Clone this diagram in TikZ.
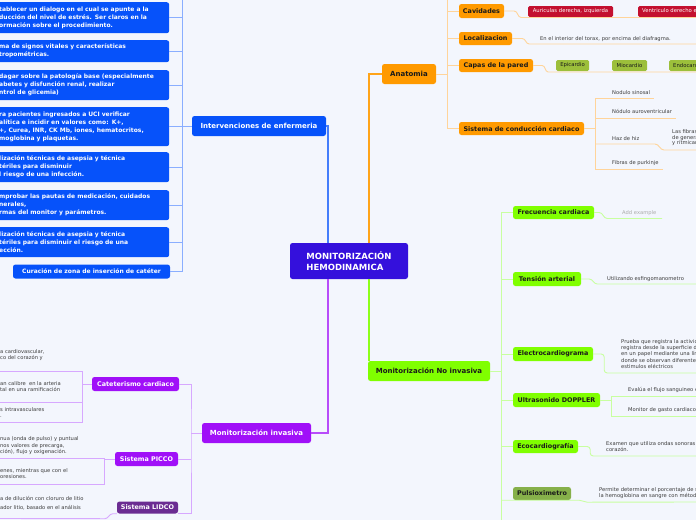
\documentclass[tikz,border=0pt]{standalone}
\usepackage{fontspec}
\setmainfont{DejaVu Sans}

\definecolor{bg}{HTML}{F3F6FD}
\definecolor{central}{HTML}{3410DC}
\definecolor{blueb}{HTML}{0652FA}
\definecolor{bluel}{HTML}{8AAEFF}
\definecolor{orangeb}{HTML}{FF9A00}
\definecolor{orangel}{HTML}{FFD49A}
\definecolor{greenb}{HTML}{80FF00}
\definecolor{greenl}{HTML}{C8FFA0}
\definecolor{purpleb}{HTML}{A010F8}
\definecolor{purplel}{HTML}{D7A8FF}
\definecolor{lidcoc}{HTML}{6B2C92}
\definecolor{redb}{HTML}{C3102F}
\definecolor{oliveb}{HTML}{9CBF3B}
\definecolor{pulsc}{HTML}{86B04A}
\definecolor{notec}{HTML}{3C3C3C}
\definecolor{addc}{HTML}{ABABAB}
\definecolor{textdark}{HTML}{1A1A1A}

\begin{document}
\begin{tikzpicture}[
    x=1pt, y=-1pt,
    box/.style={rounded corners=2.5pt, inner sep=0pt},
    mainbox/.style={box, fill=central, text=white, align=left,
      minimum width=118pt, minimum height=36pt,
      font=\fontsize{8.5}{10.7}\selectfont\bfseries},
    topic/.style={box, minimum height=20pt, font=\fontsize{7}{8}\selectfont\bfseries},
    subtopic/.style={box, minimum height=13pt, text=textdark,
      font=\fontsize{6.4}{7.5}\selectfont\bfseries},
    tag/.style={box, rounded corners=1.5pt, minimum height=11pt,
      font=\fontsize{5.3}{6}\selectfont},
    bluebox/.style={box, fill=blueb, text=white, anchor=north west, align=left,
      inner xsep=2pt, text width=168pt, font=\fontsize{6}{8}\selectfont\bfseries},
    note/.style={inner xsep=4pt, inner ysep=0pt, anchor=base west, align=left,
      text=notec, font=\fontsize{5.2}{6.3}\selectfont},
    bmain/.style={draw=blueb!75!white, line width=1.3pt},
    bthin/.style={draw=bluel, line width=0.9pt},
    omain/.style={draw=orangeb!90!white, line width=1.3pt},
    othin/.style={draw=orangel, line width=0.9pt},
    gmain/.style={draw=greenb!90!white, line width=1.3pt},
    gthin/.style={draw=greenl, line width=0.9pt},
    pmain/.style={draw=purpleb!75!white, line width=1.3pt},
    pthin/.style={draw=purplel, line width=0.9pt}
  ]
  \useasboundingbox (0,0) rectangle (696,520);
  \fill[bg] (0,0) rectangle (696,520);
  \clip (0,0) rectangle (696,520);

  % centre
  \node (mon) [mainbox] at (349,261) {MONITORIZACIÓN\\HEMODINAMICA};
  \coordinate (jb) at (328,243);
  \coordinate (jo) at (369,243);
  \coordinate (jg) at (369,279);
  \coordinate (jp) at (328,279);

  % intervenciones de enfermeria
  \node (inter) [topic, fill=blueb, text=white, minimum width=134pt] at (259,126) {Intervenciones de enfermeria};
  \node (est) [bluebox, minimum height=31pt] at (-3,2) {tablecer un dialogo en el cual se apunte a la\\ducción del nivel de estrés. Ser claros en la\\ormación sobre el procedimiento.};
  \node (toma) [bluebox, minimum height=22pt] at (-3,40) {ma de signos vitales y características\\tropométricas.};
  \node (ind) [bluebox, minimum height=30pt] at (-3,70) {dagar sobre la patología base (especialmente\\abetes y disfunción renal, realizar\\ntrol de glicemia)};
  \node (uci) [bluebox, minimum height=39pt] at (-3,107) {ra pacientes ingresados a UCI verificar\\alítica e incidir en valores como: K+,\\+, Curea, INR, CK Mb, iones, hematocritos,\\moglobina y plaquetas.};
  \node (asepa) [bluebox, minimum height=30pt] at (-3,152) {lización técnicas de asepsia y técnica\\tériles para disminuir\\l riesgo de una infección.};
  \node (comp) [bluebox, minimum height=30pt] at (-3,190) {mprobar las pautas de medicación, cuidados\\nerales,\\rmas del monitor y parámetros.};
  \node (asepb) [bluebox, minimum height=30pt] at (-3,227) {lización técnicas de asepsia y técnica\\tériles para disminuir el riesgo de una\\ección.};
  \node (cur) [box, fill=blueb, text=white, minimum width=157pt, minimum height=14pt, font=\fontsize{6}{8}\selectfont\bfseries] at (91.5,271.5) {Curación de zona de inserción de catéter};
  \coordinate (btop) at (182,0);
  \draw[bmain] (inter.east) -| (jb);
  \draw[bthin] (btop) |- (cur.east);
  \draw[bthin] (inter.west) -- (inter.west -| btop);
  \draw[bthin] (est.east) -- (est.east -| btop);
  \draw[bthin] (toma.east) -- (toma.east -| btop);
  \draw[bthin] (ind.east) -- (ind.east -| btop);
  \draw[bthin] (uci.east) -- (uci.east -| btop);
  \draw[bthin] (asepa.east) -- (asepa.east -| btop);
  \draw[bthin] (comp.east) -- (comp.east -| btop);
  \draw[bthin] (asepb.east) -- (asepb.east -| btop);

  % anatomia
  \node (anat) [topic, fill=orangeb, text=textdark, minimum width=54pt] at (409,74) {Anatomia};
  \node (cav) [subtopic, fill=orangeb, minimum width=45pt, minimum height=14pt] at (481.5,11) {Cavidades};
  \node (loc) [subtopic, fill=orangeb, minimum width=53pt] at (485.5,38.5) {Localizacion};
  \node (capas) [subtopic, fill=orangeb, minimum width=74pt] at (496,65.5) {Capas de la pared};
  \node (sis) [subtopic, fill=orangeb, minimum width=125pt] at (521.5,128.5) {Sistema de conducción cardiaco};
  \coordinate (otop) at (447,0);
  \draw[omain] (anat.west) -| (jo);
  \draw[othin] (anat.east) -- (anat.east -| otop);
  \draw[othin] (otop) |- (sis.west);
  \draw[othin] (cav.west) -- (cav.west -| otop);
  \draw[othin] (loc.west) -- (loc.west -| otop);
  \draw[othin] (capas.west) -- (capas.west -| otop);

  \node (aur) [tag, fill=redb, text=white, minimum width=85pt] at (570.5,11.5) {Auriculas derecha, izquierda};
  \node (ven) [tag, fill=redb, text=white, anchor=west, inner xsep=4pt] at (638,11.5) {Ventriculo derecho e izquierdo};
  \coordinate (cavr) at (696,17.5);
  \draw[othin] (cav.east) -- ++(10,0) to[out=0,in=180] ++(7,6.5) -- (cavr);

  \node (locx) [note] at (536,40.4) {En el interior del torax, por encima del diafragma.};
  \coordinate (locr) at (696,44);
  \draw[othin] (loc.east) -- ++(10,0) to[out=0,in=180] ++(7,5.5) -- (locr);

  \node (epi) [tag, fill=oliveb, text=textdark, minimum width=33pt] at (572.5,65.5) {Epicardio};
  \node (mio) [tag, fill=oliveb, text=textdark, minimum width=35pt] at (629.5,65.5) {Miocardio};
  \node (endo) [tag, fill=oliveb, text=textdark, anchor=west, inner xsep=4pt] at (669,65.5) {Endocardio};
  \coordinate (capr) at (696,72);
  \draw[othin] (capas.east) -- ++(9,0) to[out=0,in=180] ++(6,6.5) -- (capr);

  \node (s1) [note] at (608,94.7) {Nodulo sinosal};
  \node (s2) [note] at (608,113.7) {Nódulo auroventricular};
  \node (s3) [note] at (608,140.4) {Haz de hiz};
  \node (s4) [note] at (608,164.7) {Fibras de purkinje};
  \node (fib) [note, font=\fontsize{5.2}{5.7}\selectfont] at (668,144.8) {Las fibras\\de generar\\y rítmicamente};
  \coordinate (s1u) at (595,98);
  \coordinate (s2u) at (595,118);
  \coordinate (s3u) at (595,144);
  \coordinate (s4u) at (595,169);
  \coordinate (fibr) at (696,150);
  \draw[othin] (sis.east) -- (sis.east -| s1u);
  \draw[othin] (s1u) -- (s4u);
  \draw[othin] (s1u) -- (s1u -| s1.east);
  \draw[othin] (s2u) -- (s2u -| s2.east);
  \draw[othin] (s3u) -- ++(60,0) to[out=0,in=180] ++(9,6) -- (fibr);
  \draw[othin] (s4u) -- (s4u -| s4.east);

  % monitorizacion no invasiva
  \node (noinv) [topic, fill=greenb, text=textdark, minimum width=122pt] at (429,371) {Monitorización No invasiva};
  \draw[gmain] (jg) -- (jg |- noinv.north);
  \node (fc) [subtopic, fill=greenb, minimum width=81pt] at (553.5,212.5) {Frecuencia cardiaca};
  \node (ta) [subtopic, fill=greenb, minimum width=68pt, minimum height=14pt] at (547,279) {Tensión arterial};
  \node (ecg) [subtopic, fill=greenb, minimum width=80pt, minimum height=14pt] at (553,354) {Electrocardiograma};
  \node (dop) [subtopic, fill=greenb, minimum width=87pt, minimum height=14pt] at (556.5,400) {Ultrasonido DOPPLER};
  \node (eco) [subtopic, fill=greenb, minimum width=65pt] at (545.5,446.5) {Ecocardiografía};
  \node (pul) [subtopic, fill=pulsc, minimum width=58pt] at (542,493.5) {Pulsioximetro};
  \coordinate (gbot) at (501,520);
  \coordinate (pulr) at (696,502);
  \draw[gthin] (noinv.east) -- (noinv.east -| gbot);
  \draw[gthin] (fc.west -| gbot) -- (gbot);
  \draw[gthin] (fc.west) -- (fc.west -| gbot);
  \draw[gthin] (ta.west) -- (ta.west -| gbot);
  \draw[gthin] (ecg.west) -- (ecg.west -| gbot);
  \draw[gthin] (dop.west) -- (dop.west -| gbot);
  \draw[gthin] (eco.west) -- (eco.west -| gbot);
  \draw[gthin] (pul.south west -| gbot) -- (pul.south east) -- ++(8,0) to[out=0,in=180] ++(8,2) -- (pulr);

  \node (fcx) [note, text=addc] at (618,214.4) {Add example};
  \coordinate (fcu) at (662,218.5);
  \draw[gthin] (fc.east) -- ++(5,0) to[out=0,in=180] ++(8,6) -- (fcu);

  \node (tax) [note] at (603,280.4) {Utilizando esfingomanometro};
  \coordinate (tar) at (696,284);
  \draw[gthin] (ta.east) -- ++(8,0) to[out=0,in=180] ++(8,5) -- (tar);

  \node (ecgx) [note] at (617,368.5) {Prueba que registra la actividad eléctrica\\registra desde la superficie del cuerpo\\en un papel mediante una línea\\donde se observan diferentes ondas\\estimulos eléctricos};
  \coordinate (ecgr) at (696,373);
  \draw[gthin, rounded corners=3pt] (ecg.east) -- ++(11,0) |- (ecgr);

  \node (d1) [note] at (624,391.4) {Evalúa el flujo sanguineo en los vasos};
  \node (d2) [note] at (624,411.4) {Monitor de gasto cardiaco no invasivo};
  \coordinate (d1u) at (611,396);
  \coordinate (d2u) at (611,416);
  \coordinate (d1r) at (696,396);
  \coordinate (d2r) at (696,416);
  \draw[gthin] (dop.east) -- (dop.east -| d1u);
  \draw[gthin] (d1r) -- (d1u) -- (d2u) -- (d2r);

  \node (ecox) [note] at (602,451.5) {Examen que utiliza ondas sonoras para ver el\\corazón.};
  \coordinate (ecor) at (696,456);
  \draw[gthin, rounded corners=3pt] (eco.east) -- ++(12,0) |- (ecor);

  \node (pulx) [note] at (595,497.5) {Permite determinar el porcentaje de saturación\\la hemoglobina en sangre con métodos};

  % monitorizacion invasiva
  \node (inv) [topic, fill=purpleb, text=white, minimum width=109pt] at (256.5,433) {Monitorización invasiva};
  \draw[pmain] (inv.east) -| (jp);
  \node (cat) [subtopic, fill=purpleb, text=white, minimum width=87pt, minimum height=14pt] at (135.5,384) {Cateterismo cardiaco};
  \node (picco) [subtopic, fill=purpleb, text=white, minimum width=63pt, minimum height=14pt] at (146.5,459) {Sistema PICCO};
  \node (lidco) [subtopic, fill=lidcoc, text=white, minimum width=61pt, minimum height=12pt] at (147.5,507.5) {Sistema LIDCO};
  \coordinate (pbus) at (191,433);
  \draw[pthin] (inv.west) -- (pbus);
  \draw[pthin] (cat.east) -| (pbus) |- (lidco.south east);
  \draw[pthin] (picco.east) -- (picco.east -| pbus);

  \node (c1) [note] at (-4,359.4) {a cardiovascular,\\co del corazón y};
  \node (c2) [note] at (-4,391.4) {an calibre\ \ en la arteria\\tal en una ramificación};
  \node (c3) [note] at (-4,417.4) {s intravasculares\\.};
  \coordinate (c1u) at (0,371);
  \coordinate (c2u) at (0,402);
  \coordinate (c3u) at (0,422);
  \coordinate (cbus) at (82,384);
  \draw[pthin] (cat.west) -- (cbus);
  \draw[pthin] (c1u) -- (c1u -| cbus) -- (c3u -| cbus) -- (c3u);
  \draw[pthin] (c2u) -- (c2u -| cbus);

  \node (p1) [note] at (-4,453.4) {nua (onda de pulso) y puntual\\nos valores de precarga,\\ción), flujo y oxigenación.};
  \node (p2) [note] at (-4,478.4) {enes, mientras que con el\\oresiones.};
  \coordinate (p1u) at (0,458);
  \coordinate (p2u) at (0,484);
  \coordinate (pcbus) at (104,459);
  \draw[pthin] (picco.west) -- (pcbus);
  \draw[pthin] (p1u) -- (p1u -| pcbus) -- (p2u -| pcbus) -- (p2u);

  \node (l1) [note] at (-4,509.5) {a de dilución con cloruro de litio\\[3pt]ador litio, basado en el análisis};
  \coordinate (l1u) at (0,518.5);
  \draw[pthin] (lidco.south west) -- ++(-4,0) to[out=180,in=0] ++(-8,5) -- (l1u);
\end{tikzpicture}
\end{document}
